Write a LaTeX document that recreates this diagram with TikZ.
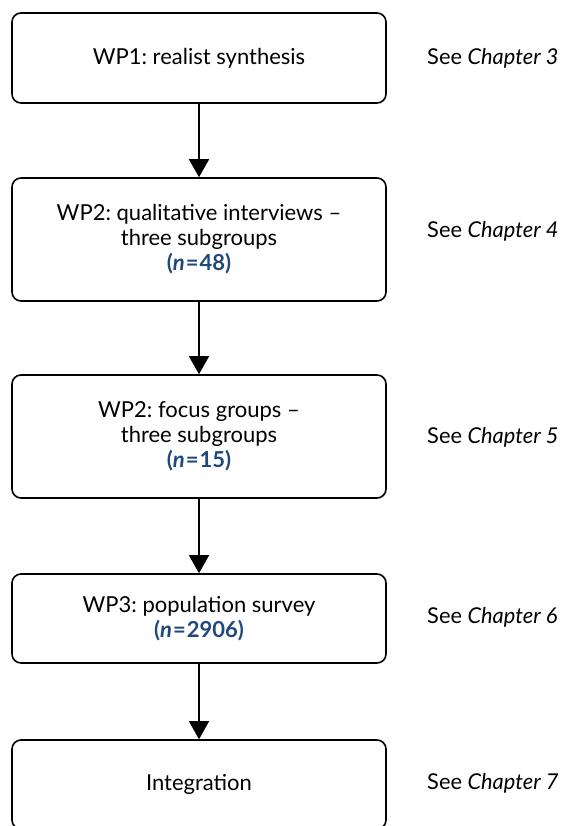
\documentclass[tikz,border=0pt]{standalone}
\usepackage{fontspec}
\setmainfont{Lato}
\usetikzlibrary{arrows.meta}
\definecolor{nblue}{RGB}{31,73,125}
\frenchspacing
\begin{document}
\begin{tikzpicture}[x=1pt,y=-1pt,
  box/.style={draw, line width=1.6pt, rounded corners=9pt, minimum width=374pt, align=center, font=\fontsize{22}{25}\selectfont, inner sep=0pt},
  note/.style={anchor=west, inner sep=0pt, font=\fontsize{21.8}{25}\selectfont},
  flow/.style={line width=1.6pt, -{Triangle[width=20pt,length=18pt]}}]
\useasboundingbox (0,0) rectangle (560,826);
\node[box, minimum height=90pt] (b1) at (199,58) {WP1: realist synthesis};
\node[box, minimum height=123pt] (b2) at (199,239.5) {WP2: qualitative interviews --\\three subgroups\\\textcolor{nblue}{\bfseries(\textit{n}\kern1pt=\kern1pt48)}};
\node[box, minimum height=123pt] (b3) at (199,436.5) {WP2: focus groups --\\three subgroups\\\textcolor{nblue}{\bfseries(\textit{n}\kern1pt=\kern1pt15)}};
\node[box, minimum height=89pt] (b4) at (199,618.5) {WP3: population survey\\\textcolor{nblue}{\bfseries(\textit{n}\kern1pt=\kern1pt2906)}};
\node[box, minimum height=89pt] (b5) at (199,784.5) {Integration};
\node[note] (c1) at (427,58) {See \textit{Chapter 3}};
\node[note] (c2) at (427,231) {See \textit{Chapter 4}};
\node[note] (c3) at (427,437) {See \textit{Chapter 5}};
\node[note] (c4) at (427,617) {See \textit{Chapter 6}};
\node[note] (c5) at (427,783) {See \textit{Chapter 7}};
\draw[flow] (b1.south) -- (b2.north);
\draw[flow] (b2.south) -- (b3.north);
\draw[flow] (b3.south) -- (b4.north);
\draw[flow] (b4.south) -- (b5.north);
\end{tikzpicture}
\end{document}
